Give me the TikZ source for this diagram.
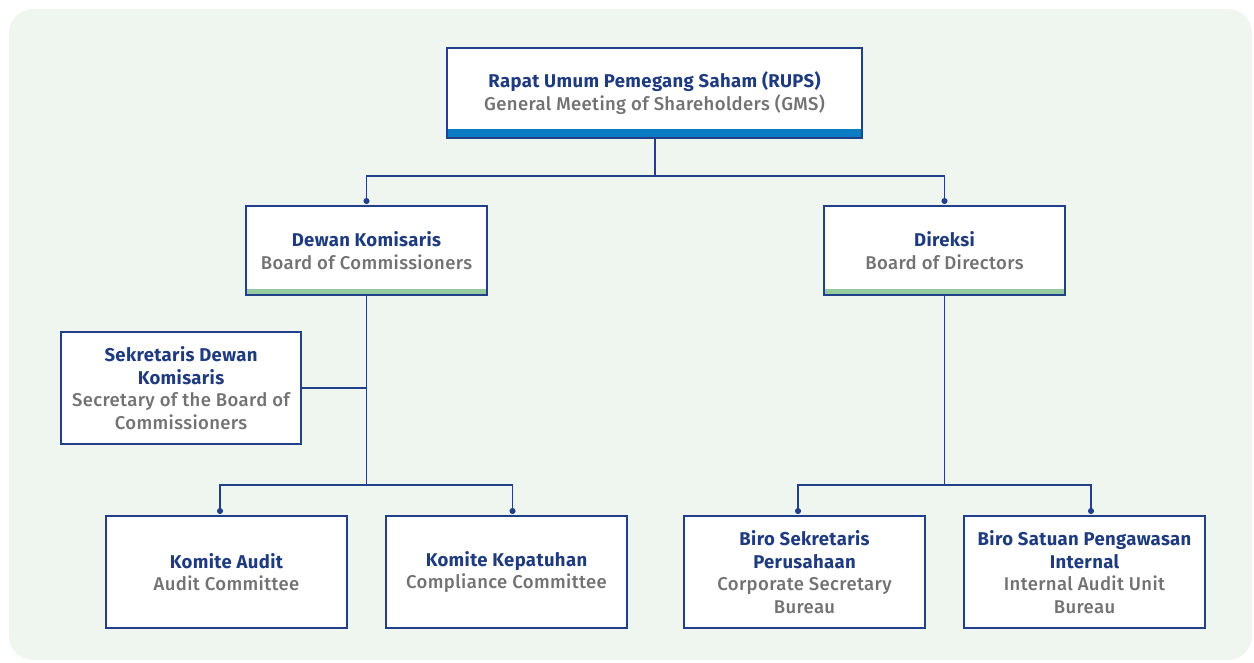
\documentclass[tikz,border=0pt]{standalone}
\usepackage{fontspec}
\setmainfont{Fira Sans}[LetterSpace=2]
\newfontfamily\subfont{Fira Sans Medium}[LetterSpace=2]
\usepackage{xcolor}
\usetikzlibrary{arrows.meta,positioning,calc}
\definecolor{OrgPanel}{HTML}{EFF6F0}
\definecolor{OrgNavy}{HTML}{22408A}
\definecolor{OrgTitle}{HTML}{1F3B80}
\definecolor{OrgGray}{HTML}{727272}
\definecolor{OrgBlue}{HTML}{0A7CC4}
\definecolor{OrgGreen}{HTML}{95C9A0}
\tikzset{
  obox/.style={draw=OrgNavy,fill=white,line width=1.4pt,align=center,
    inner sep=0pt,outer sep=0pt,minimum width=241pt,minimum height=112pt,
    font=\fontsize{18.5}{22.5}\selectfont},
  bluebar/.style={path picture={\fill[OrgBlue]
    (path picture bounding box.south west) rectangle
    ([yshift=9pt]path picture bounding box.south east);}},
  greenbar/.style={path picture={\fill[OrgGreen]
    (path picture bounding box.south west) rectangle
    ([yshift=6pt]path picture bounding box.south east);}},
  oconn/.style={draw=OrgNavy,line width=1.4pt},
  odot/.style={oconn,-{Circle[length=6pt,width=6pt]},shorten >=2pt}
}
\newcommand{\ttl}[1]{{\bfseries\color{OrgTitle}#1}}
\newcommand{\sub}[1]{{\subfont\color{OrgGray}#1}}
\begin{document}
\begin{tikzpicture}[x=1pt,y=-1pt]
  \useasboundingbox (0,0) rectangle (1254,662);
  \fill[OrgPanel,rounded corners=24pt] (9,9) rectangle (1252,660);

  % top level
  \node[obox,bluebar,minimum width=415pt,minimum height=90pt] (rups) at (654.5,93)
    {\ttl{Rapat Umum Pemegang Saham (RUPS)}\\\sub{General Meeting of Shareholders (GMS)}};

  % boards
  \node[obox,greenbar,minimum height=89pt] (dekom) at (366.5,250.5)
    {\ttl{Dewan Komisaris}\\\sub{Board of Commissioners}};
  \node[obox,greenbar,minimum height=89pt] (direksi) at (944.5,250.5)
    {\ttl{Direksi}\\\sub{Board of Directors}};

  \node[obox,minimum width=240pt] (sekdekom) at (181,388)
    {\ttl{Sekretaris Dewan}\\\ttl{Komisaris}\\\sub{Secretary of the Board of}\\\sub{Commissioners}};

  % committees and bureaus
  \node[obox] (audit) at (226.5,572)
    {\ttl{Komite Audit}\\\sub{Audit Committee}};
  \node[obox] (patuh) at (506.5,572)
    {\ttl{Komite Kepatuhan}\\\sub{Compliance Committee}};
  \node[obox] (corsec) at (804.5,572)
    {\ttl{Biro Sekretaris}\\\ttl{Perusahaan}\\\sub{Corporate Secretary}\\\sub{Bureau}};
  \node[obox] (spi) at (1084.5,572)
    {\ttl{Biro Satuan Pengawasan}\\\ttl{Internal}\\\sub{Internal Audit Unit}\\\sub{Bureau}};

  \coordinate (jtop) at (654.5,176);
  \coordinate (jkom) at (366.5,485);
  \coordinate (jdir) at (944.5,485);

  \draw[oconn,line width=2pt] (rups.south) -- (jtop);
  \draw[odot] (jtop) -| (dekom.north);
  \draw[odot] (jtop) -| (direksi.north);

  \draw[oconn] (dekom.south) -- (jkom);
  \draw[oconn] (sekdekom.east) -- (sekdekom.east -| jkom);
  \draw[odot] (jkom) -| ([xshift=-6.5pt]audit.north);
  \draw[odot] (jkom) -| ([xshift=6pt]patuh.north);

  \draw[oconn] (direksi.south) -- (jdir);
  \draw[odot] (jdir) -| ([xshift=-6.5pt]corsec.north);
  \draw[odot] (jdir) -| ([xshift=6.5pt]spi.north);
\end{tikzpicture}
\end{document}
